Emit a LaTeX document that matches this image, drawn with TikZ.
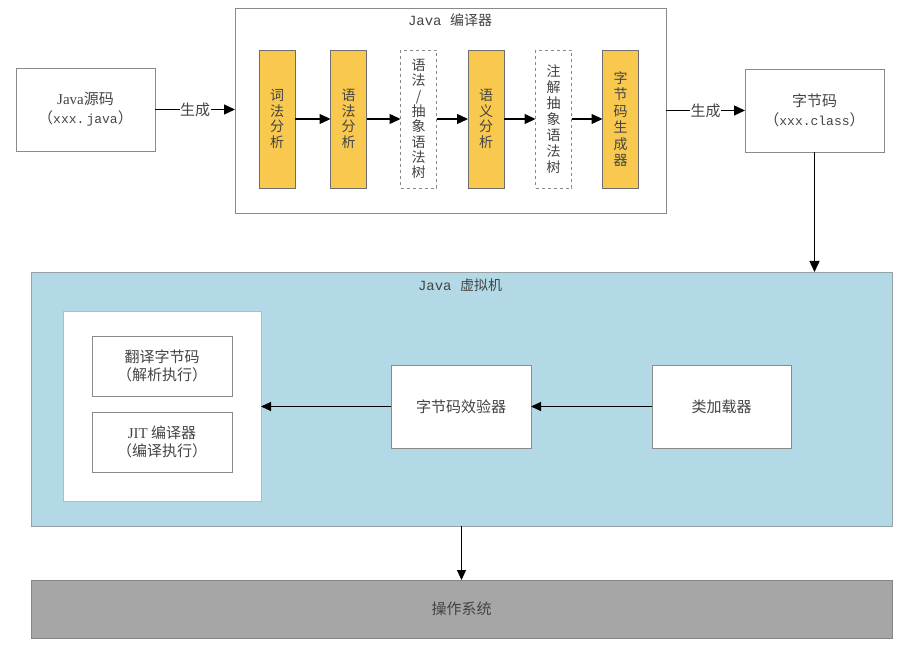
\documentclass[tikz,border=0pt]{standalone}
\usepackage{fontspec}
\setmainfont{Liberation Serif}
\setmonofont{Liberation Mono}
\newfontfamily\cjk{Noto Sans CJK SC}
\usetikzlibrary{arrows.meta}
\definecolor{yel}{HTML}{F9C94F}
\definecolor{jvmblue}{HTML}{B3D9E7}
\definecolor{osgray}{HTML}{A6A6A6}
\definecolor{bord}{HTML}{8A8A8A}
\definecolor{txt}{HTML}{444444}
\newcommand{\monosm}[1]{{\ttfamily\fontsize{13}{19}\selectfont #1}}
\begin{document}
\begin{tikzpicture}[x=1pt,y=-1pt,
  box/.style={draw=bord,line width=0.9pt,fill=white,rectangle,inner sep=0pt,outer sep=0pt,align=center,text=txt,font=\cjk\fontsize{15}{19}\selectfont},
  yelbox/.style={box,fill=yel,draw=bord!80!black,minimum width=36pt,minimum height=138pt,font=\cjk\fontsize{14}{15.5}\selectfont},
  dashbox/.style={box,dashed,minimum width=36pt,minimum height=138pt,font=\cjk\fontsize{14}{15.3}\selectfont},
  arr/.style={line width=1.4pt,-{Triangle[length=11pt,width=10pt]}},
  thinarr/.style={line width=1pt,-{Triangle[length=10pt,width=9pt]}},
  lbl/.style={fill=white,inner sep=0.5pt,text=txt,font=\cjk\fontsize{15}{16}\selectfont}
]
\useasboundingbox (0,0) rectangle (908,647);
\fill[white] (0,0) rectangle (908,647);

% Compiler
\node[box,minimum width=431pt,minimum height=205pt] (comp) at (450.5,110.5) {};
\node[text=txt,font=\fontsize{14}{16}\selectfont] (comptitle) at (450,20) {\ttfamily Java {\cjk 编译器}};

\node[yelbox] (c1) at (277,119) {词\\法\\分\\析};
\node[yelbox] (c2) at (348.5,119) {语\\法\\分\\析};
\node[dashbox] (c3) at (418.5,119) {语\\法\\/\\抽\\象\\语\\法\\树};
\node[dashbox,font=\cjk\fontsize{14}{16}\selectfont] (c5) at (553.5,119) {注\\解\\抽\\象\\语\\法\\树};
\node[yelbox] (c4) at (486,119) {语\\义\\分\\析};
\node[yelbox,font=\cjk\fontsize{14}{16.5}\selectfont] (c6) at (620.5,119) {字\\节\\码\\生\\成\\器};

\draw[arr] (c1) -- (c2);
\draw[arr] (c2) -- (c3);
\draw[arr] (c3) -- (c4);
\draw[arr] (c4) -- (c5);
\draw[arr] (c5) -- (c6);

% Source and bytecode
\node[box,minimum width=139pt,minimum height=83pt] (src) at (85.5,109.5) {{\rmfamily Java}源码\\（\monosm{xxx.\,java}）};
\node[box,minimum width=139pt,minimum height=83pt] (bc) at (814.5,110.5) {字节码\\（\monosm{xxx.class}）};

\draw[arr] (src.east) -- node[lbl] {生成} (src.east -| comp.west);
\draw[arr] (comp.east |- bc.west) -- node[lbl] {生成} (bc.west);

% JVM
\node[box,fill=jvmblue,draw=bord!70!jvmblue,minimum width=861pt,minimum height=254pt] (jvm) at (461.5,399) {};
\draw[arr] (bc.south) -- (bc.south |- jvm.north);
\node[text=txt,font=\fontsize{14}{16}\selectfont] (jvmtitle) at (460,285) {\ttfamily Java {\cjk 虚拟机}};

\node[box,draw=bord!60,minimum width=198pt,minimum height=190pt] (exec) at (162,406) {};
\node[box,minimum width=140pt,minimum height=60pt,font=\cjk\fontsize{15}{18.5}\selectfont] (interp) at (162,366) {翻译字节码\\（解析执行）};
\node[box,minimum width=140pt,minimum height=60pt,font=\cjk\fontsize{15}{18.5}\selectfont] (jit) at (162,442) {{\rmfamily JIT} 编译器\\（编译执行）};

\node[box,minimum width=140pt,minimum height=83pt] (verif) at (461,406.5) {字节码效验器};
\node[box,minimum width=139pt,minimum height=83pt] (loader) at (721.5,406.5) {类加载器};

\draw[thinarr] (loader.west) -- (verif.east);
\draw[thinarr] (verif.west) -- (exec.east |- verif.west);

% OS
\node[box,fill=osgray,draw=osgray!80!black,minimum width=861pt,minimum height=58pt] (os) at (461.5,609) {操作系统};
\draw[thinarr] (jvm.south) -- (os.north);
\end{tikzpicture}
\end{document}
